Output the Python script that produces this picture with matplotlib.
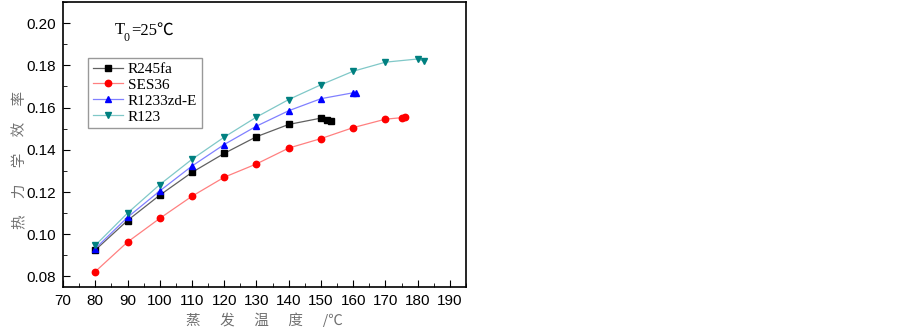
import matplotlib.pyplot as plt
from matplotlib.ticker import MultipleLocator

t_r245fa = [80, 90, 100, 110, 120, 130, 140, 150, 152, 153]
e_r245fa = [0.0925, 0.1065, 0.1185, 0.1293, 0.1383, 0.1462, 0.1520, 0.1550, 0.1543, 0.1535]

t_ses36 = [80, 90, 100, 110, 120, 130, 140, 150, 160, 170, 175, 176]
e_ses36 = [0.0823, 0.0963, 0.1075, 0.1180, 0.1270, 0.1333, 0.1408, 0.1453, 0.1505, 0.1545, 0.1552, 0.1553]

t_r1233 = [80, 90, 100, 110, 120, 130, 140, 150, 160, 161]
e_r1233 = [0.0932, 0.1080, 0.1205, 0.1323, 0.1425, 0.1512, 0.1585, 0.1642, 0.1670, 0.1670]

t_r123 = [80, 90, 100, 110, 120, 130, 140, 150, 160, 170, 180, 182]
e_r123 = [0.0947, 0.1100, 0.1235, 0.1355, 0.1460, 0.1555, 0.1638, 0.1708, 0.1772, 0.1815, 0.1830, 0.1819]

cjk = ['Noto Sans CJK SC', 'DejaVu Sans']
serif = ['Liberation Serif', 'Noto Sans CJK SC', 'DejaVu Sans']

fig = plt.figure(figsize=(9.03, 3.27), dpi=100)
ax = fig.add_axes([0.0698, 0.1223, 0.4463, 0.8716])

ax.plot(t_r245fa, e_r245fa, color='#606060', lw=0.9, marker='s', ms=4.2,
        mfc='black', mec='black', label='R245fa')
ax.plot(t_ses36, e_ses36, color='#ff8080', lw=0.9, marker='o', ms=4.6,
        mfc='red', mec='red', label='SES36')
ax.plot(t_r1233, e_r1233, color='#8080ff', lw=0.9, marker='^', ms=5,
        mfc='blue', mec='blue', label='R1233zd-E')
ax.plot(t_r123, e_r123, color='#80c8c8', lw=0.9, marker='v', ms=5,
        mfc='#008080', mec='#008080', label='R123')

ax.set_xlim(70, 195)
ax.set_ylim(0.075, 0.21)
ax.xaxis.set_major_locator(MultipleLocator(10))
ax.xaxis.set_minor_locator(MultipleLocator(5))
ax.yaxis.set_major_locator(MultipleLocator(0.02))
ax.yaxis.set_minor_locator(MultipleLocator(0.01))
ax.tick_params(which='both', direction='in', top=False, right=False)
ax.tick_params(which='major', length=5, labelsize=11, pad=5)
ax.tick_params(which='minor', length=3)
for lab in ax.get_xticklabels() + ax.get_yticklabels():
    lab.set_family('Liberation Sans')
for s in ax.spines.values():
    s.set_linewidth(1.2)
ax.yaxis.set_major_formatter(plt.FormatStrFormatter('%.2f'))

ax.set_xlabel('蒸      发      温      度      /℃', family=cjk,
              color='#707070', fontsize=10.5)
ax.xaxis.set_label_coords(0.5, -0.088)
ax.set_ylabel('热     力     学     效     率', family=cjk,
              color='#707070', fontsize=10.5)
ax.yaxis.set_label_coords(-0.088, 0.445)

# T0=25℃ with subscript, built from plain text pieces
ax.text(0.128, 0.90, 'T', transform=ax.transAxes, fontsize=12, family=serif, va='center')
ax.text(0.151, 0.875, '0', transform=ax.transAxes, fontsize=8.5, family=serif, va='center')
ax.text(0.170, 0.90, '=25℃', transform=ax.transAxes, fontsize=12, family=serif, va='center')

leg = ax.legend(loc='upper left', bbox_to_anchor=(0.062, 0.805), fancybox=False,
                edgecolor='#808080', prop={'family': 'Liberation Serif', 'size': 11},
                handlelength=2.0, borderpad=0.3, labelspacing=0.15, handletextpad=0.3,
                borderaxespad=0)
leg.get_frame().set_linewidth(1.0)

fig.savefig('out.png', dpi=100)
